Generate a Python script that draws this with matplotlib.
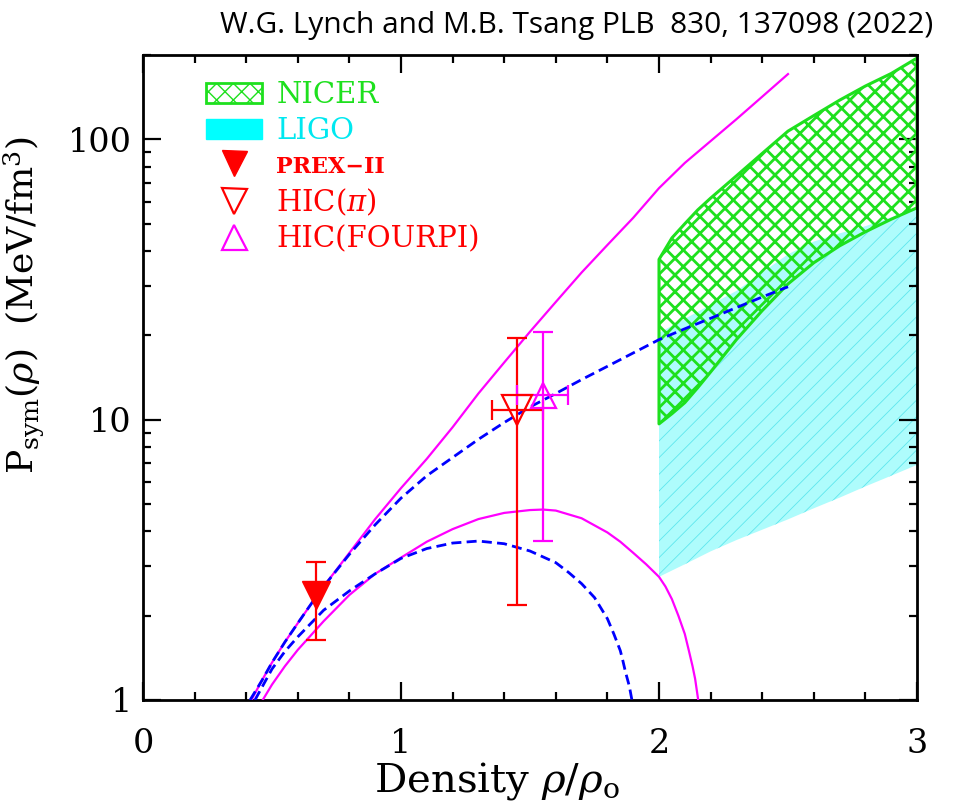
import numpy as np
import matplotlib
import matplotlib.pyplot as plt
from matplotlib.patches import Patch
from matplotlib.lines import Line2D
from matplotlib.ticker import MultipleLocator, LogLocator, NullFormatter

matplotlib.rcParams['mathtext.fontset'] = 'dejavuserif'
matplotlib.rcParams['font.family'] = 'DejaVu Serif'

# 曲线数据 (密度 rho/rho0, 对称压强 MeV/fm^3)
x_mag_up = [0.42, 0.46, 0.5, 0.55, 0.6, 0.65, 0.7, 0.8, 0.9, 1.0, 1.1, 1.2, 1.3, 1.4, 1.5,
            1.6, 1.7, 1.8, 1.9, 2.0, 2.1, 2.2, 2.3, 2.4, 2.5]
y_mag_up = [1.0, 1.17, 1.36, 1.61, 1.88, 2.19, 2.54, 3.35, 4.42, 5.7, 7.25, 9.4, 12.4,
            16.0, 20.6, 26.3, 33.5, 42.0, 52.5, 67.0, 82.4, 98.6, 118.0, 142.0, 171.0]

x_blue_up = [0.415, 0.46, 0.5, 0.55, 0.6, 0.65, 0.7, 0.8, 0.9, 1.0, 1.1, 1.2, 1.3, 1.4,
             1.5, 1.6, 1.7, 1.8, 1.9, 2.0, 2.1, 2.2, 2.3, 2.4, 2.5]
y_blue_up = [1.0, 1.17, 1.36, 1.61, 1.88, 2.19, 2.54, 3.31, 4.22, 5.25, 6.31, 7.33, 8.51,
             9.77, 11.1, 12.4, 13.9, 15.5, 17.3, 19.3, 21.1, 23.0, 25.1, 27.4, 29.8]

x_mag_lo = [0.464, 0.5, 0.55, 0.6, 0.7, 0.8, 0.9, 1.0, 1.1, 1.2, 1.3, 1.4, 1.5, 1.55, 1.6,
            1.7, 1.8, 1.85, 1.9, 1.95, 2.0, 2.025, 2.05, 2.075, 2.1, 2.115, 2.13, 2.14, 2.152]
y_mag_lo = [1.0, 1.135, 1.32, 1.51, 1.91, 2.37, 2.82, 3.22, 3.67, 4.07, 4.42, 4.65, 4.76,
            4.78, 4.74, 4.45, 3.96, 3.67, 3.35, 3.05, 2.75, 2.54, 2.29, 2.0, 1.72, 1.51,
            1.32, 1.19, 1.0]

x_blue_lo = [0.434, 0.5, 0.55, 0.6, 0.7, 0.8, 0.9, 1.0, 1.1, 1.2, 1.3, 1.4, 1.5, 1.6, 1.65,
             1.7, 1.75, 1.8, 1.825, 1.85, 1.86, 1.87, 1.885, 1.895]
y_blue_lo = [1.0, 1.29, 1.49, 1.68, 2.09, 2.45, 2.82, 3.2, 3.47, 3.63, 3.69, 3.61, 3.4,
             3.09, 2.85, 2.6, 2.32, 1.95, 1.72, 1.5, 1.38, 1.26, 1.12, 1.0]

# NICER / LIGO 区域
x_nicer = [2.0, 2.05, 2.1, 2.15, 2.2, 2.3, 2.4, 2.5, 2.6, 2.7, 2.8, 2.9, 3.0]
nicer_lo = [9.66, 10.5, 11.5, 13.0, 14.8, 19.3, 24.5, 30.5, 36.3, 41.7, 46.8, 51.9, 57.0]
nicer_hi = [37.3, 44.5, 50.0, 56.0, 61.7, 74.1, 89.1, 107.0, 121.6, 138.0, 155.0, 171.8, 195.0]
x_ligo = [2.0, 2.1, 2.2, 2.3, 2.4, 2.5, 2.6, 2.7, 2.8, 2.9, 3.0]
ligo_lo = [2.75, 3.05, 3.39, 3.72, 4.05, 4.41, 4.83, 5.27, 5.78, 6.31, 6.9]
ligo_hi = [20.4, 22.9, 25.7, 28.8, 33.5, 38.9, 43.2, 46.2, 49.0, 52.7, 57.0]

# 实验点
prex_x, prex_y, prex_lo, prex_hi = 0.67, 2.37, 1.64, 3.11
hicpi_x, hicpi_y, hicpi_lo, hicpi_hi = 1.45, 10.8, 2.18, 19.6
hicpi_xlo, hicpi_xhi = 1.353, 1.55
four_x, four_y, four_lo, four_hi = 1.55, 12.2, 3.7, 20.5
four_xlo, four_xhi = 1.449, 1.647

green = '#1ee01e'
cyan_fill = '#aefcfc'
cyan_hatch = '#5ee6ee'
magenta = '#ff00ff'

fig = plt.figure(figsize=(9.55, 8.11), dpi=100)
ax = fig.add_axes([143 / 955, 111 / 811, 774 / 955, 645 / 811])

with plt.rc_context({'hatch.linewidth': 0.6}):
    ligo = ax.fill_between(x_ligo, ligo_lo, ligo_hi, facecolor=cyan_fill,
                           edgecolor=cyan_hatch, hatch='//', linewidth=0, zorder=1)
with plt.rc_context({'hatch.linewidth': 2.0}):
    nicer = ax.fill_between(x_nicer, nicer_lo, nicer_hi, facecolor='none',
                            edgecolor=green, hatch='xx', linewidth=2.2, zorder=2)
if hasattr(ligo, 'set_hatch_linewidth'):
    ligo.set_hatch_linewidth(0.6)
    nicer.set_hatch_linewidth(2.0)

ax.plot(x_mag_up, y_mag_up, color=magenta, lw=1.6, zorder=3)
ax.plot(x_mag_lo, y_mag_lo, color=magenta, lw=1.6, zorder=3)
ax.plot(x_blue_up, y_blue_up, color='#0000ff', lw=2, ls=(0, (3.6, 1.9)), zorder=4)
ax.plot(x_blue_lo, y_blue_lo, color='#0000ff', lw=2, ls=(0, (3.6, 1.9)), zorder=4)

# 误差棒
ax.errorbar([prex_x], [prex_y], yerr=[[prex_y - prex_lo], [prex_hi - prex_y]],
            fmt='v', color='red', ms=20, capsize=7, elinewidth=1.6, capthick=1.6, zorder=5)
ax.errorbar([hicpi_x], [hicpi_y], yerr=[[hicpi_y - hicpi_lo], [hicpi_hi - hicpi_y]],
            xerr=[[hicpi_x - hicpi_xlo], [hicpi_xhi - hicpi_x]],
            fmt='v', color='red', mfc='none', mec='red', mew=1.6, ms=21,
            capsize=7, elinewidth=1.6, capthick=1.6, zorder=5)
ax.errorbar([four_x], [four_y], yerr=[[four_y - four_lo], [four_hi - four_y]],
            xerr=[[four_x - four_xlo], [four_xhi - four_x]],
            fmt='^', color=magenta, mfc='none', mec=magenta, mew=1.6, ms=18,
            capsize=7, elinewidth=1.6, capthick=1.6, zorder=5)

ax.set_xlim(0, 3)
ax.set_yscale('log')
ax.set_ylim(1, 200)
ax.set_xticks([0, 1, 2, 3])
ax.set_xticklabels(['0', '1', '2', '3'])
ax.xaxis.set_minor_locator(MultipleLocator(0.2))
ax.set_yticks([1, 10, 100])
ax.set_yticklabels(['1', '10', '100'])
ax.yaxis.set_minor_locator(LogLocator(base=10, subs=np.arange(2, 10)))
ax.yaxis.set_minor_formatter(NullFormatter())
ax.tick_params(which='both', direction='in', top=True, right=True, labelsize=24, width=1.6)
ax.tick_params(axis='x', which='major', length=13, pad=20)
ax.tick_params(axis='y', which='major', length=13, pad=8)
ax.tick_params(which='minor', length=6)
for sp in ax.spines.values():
    sp.set_linewidth(2)

ax.set_xlabel(r'Density $\rho/\rho_{\rm o}$', fontsize=29)
ax.xaxis.set_label_coords(0.457, -0.093)
ax.set_ylabel(r'P$_{\rm sym}$($\rho$)  (MeV/fm$^3$)', fontsize=26)
ax.yaxis.set_label_coords(-0.125, 0.612)

handles = [
    Patch(facecolor='none', edgecolor=green, hatch='xx', linewidth=2),
    Patch(facecolor='#00ffff', edgecolor='#00ffff'),
    Line2D([], [], marker='v', color='red', ls='none', ms=18),
    Line2D([], [], marker='v', color='red', mfc='none', ls='none', ms=18, mew=1.6),
    Line2D([], [], marker='^', color=magenta, mfc='none', ls='none', ms=18, mew=1.6),
]
labels = ['NICER', 'LIGO', 'PREX\u2212II', r'HIC($\pi$)', 'HIC(FOURPI)']
leg = ax.legend(handles, labels, loc='upper left', bbox_to_anchor=(0.063, 0.982),
                frameon=False, fontsize=21, handlelength=1.9, handleheight=0.7,
                handletextpad=0.5, labelspacing=0.27, borderpad=0,
                labelcolor=[green, '#00e8f0', 'red', 'red', 'red'])
leg.get_texts()[2].set_fontsize(16)
leg.get_texts()[2].set_fontweight('bold')

fig.text(0.977, 1 - 33 / 811, 'W.G. Lynch and M.B. Tsang PLB  830, 137098 (2022)',
         ha='right', va='baseline', fontsize=21.5, family=['Open Sans', 'DejaVu Sans'])

fig.savefig('out.png', dpi=100)
